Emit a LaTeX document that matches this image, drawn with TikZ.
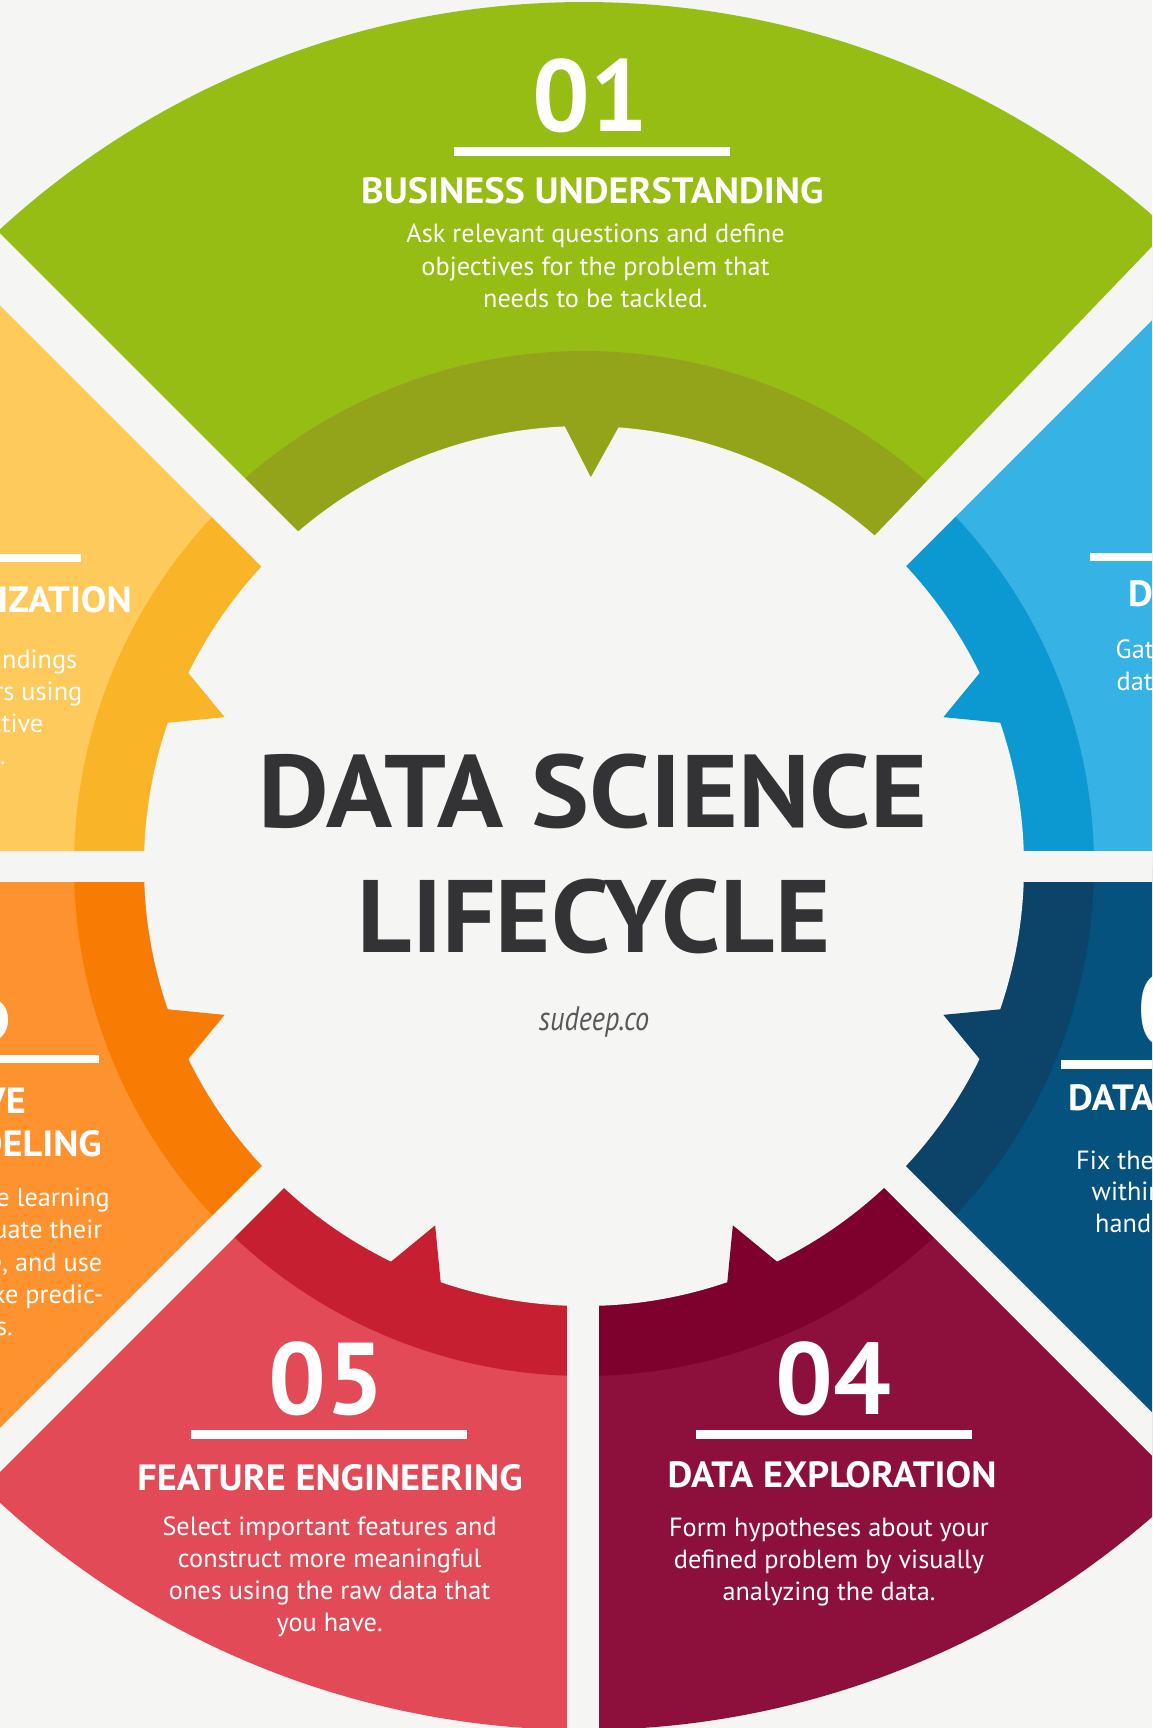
\documentclass[tikz,border=0pt]{standalone}
\usepackage{fontspec}
\setmainfont{PT Sans}
\newfontfamily\ttlfont[FakeStretch=1.05]{PT Sans}
\newfontfamily\bigfont[FakeStretch=1.06]{PT Sans}
\newfontfamily\bigfontb[FakeStretch=1.025]{PT Sans}
\newfontfamily\sitefont[FakeStretch=0.83]{PT Sans}
\usetikzlibrary{calc}
\definecolor{bgc}{HTML}{F5F5F3}
\definecolor{gA}{HTML}{96BD13}\definecolor{gB}{HTML}{93A41A}
\definecolor{yA}{HTML}{FECA5C}\definecolor{yB}{HTML}{F9B428}
\definecolor{oA}{HTML}{FE922E}\definecolor{oB}{HTML}{F87B04}
\definecolor{rA}{HTML}{E24A58}\definecolor{rB}{HTML}{C71F32}
\definecolor{mA}{HTML}{8D103C}\definecolor{mB}{HTML}{7D002D}
\definecolor{dA}{HTML}{06527E}\definecolor{dB}{HTML}{0B4468}
\definecolor{bA}{HTML}{36B2E4}\definecolor{bB}{HTML}{0C99D1}
\definecolor{ink}{HTML}{333335}
\definecolor{siteink}{HTML}{58585A}
\newcommand{\dssector}[4]{\fill[#1] (584,866) -- plot[domain=#2:#3,samples=120,variable=\t] ({584+#4*cos(\t)},{866+#4*sin(\t)}) -- cycle;}
\newcommand{\dstooth}[2]{\fill[#1] ({584+447*cos(#2-3.9)},{866+447*sin(#2-3.9)}) -- ({584+389*cos(#2)},{866+389*sin(#2)}) -- ({584+447*cos(#2+3.9)},{866+447*sin(#2+3.9)}) -- cycle;}
\tikzset{
  num/.style={font=\bfseries\fontsize{102}{110}\selectfont,text=white,inner sep=0pt,anchor=base},
  ttl/.style={font=\ttlfont\bfseries\fontsize{36.5}{40}\selectfont,text=white,inner sep=0pt,anchor=base},
  desc/.style={font=\fontsize{26.3}{32}\selectfont,text=white,inner sep=0pt,anchor=base},
  bigt/.style={font=\bigfont\bfseries\fontsize{103}{110}\selectfont,text=ink,inner sep=0pt,anchor=base},
  bigtb/.style={font=\bigfontb\bfseries\fontsize{103}{110}\selectfont,text=ink,inner sep=0pt,anchor=base},
  site/.style={font=\sitefont\itshape\fontsize{34}{36}\selectfont,text=siteink,inner sep=0pt,anchor=base},
  gap/.style={draw=bgc,line cap=butt}
}
\begin{document}
\begin{tikzpicture}[x=1pt,y=-1pt]
\useasboundingbox (0,0) rectangle (1152,1728);
\clip (0,0) rectangle (1152,1728);
\fill[bgc] (-10,-10) rectangle (1162,1738);
% outer sectors
\dssector{bA}{-45}{0}{864}
\dssector{dA}{0}{45}{864}
\dssector{mA}{45}{90}{864}
\dssector{rA}{90}{135}{864}
\dssector{oA}{135}{180}{864}
\dssector{yA}{180}{225}{864}
\dssector{gA}{225}{315}{864}
% darker bands
\dssector{bB}{-45}{0}{510}
\dssector{dB}{0}{45}{510}
\dssector{mB}{45}{90}{510}
\dssector{rB}{90}{135}{510}
\dssector{oB}{135}{180}{510}
\dssector{yB}{180}{225}{510}
\dssector{gB}{225}{315}{515}
% center disc
\fill[bgc] (584,866) circle[radius=440];
% teeth
\dstooth{bB}{-22.5}
\dstooth{dB}{22.5}
\dstooth{mB}{67.5}
\dstooth{rB}{112.5}
\dstooth{oB}{157.5}
\dstooth{yB}{202.5}
\dstooth{gB}{271}
% gaps
\draw[gap,line width=31pt] (584,866.5) -- (1300,866.5);
\draw[gap,line width=31pt] (584,866.5) -- (-100,866.5);
\draw[gap,line width=32pt] (583,866) -- (583,1800);
\draw[gap,line width=30.5pt] (584,866) -- (1400,1682);
\draw[gap,line width=31pt] (584,866) -- (-300,1750);
\fill[bgc] (-100,133.3) -- (560,793.3) -- (560,865) -- (-100,205) -- cycle;
\fill[bgc] (600,821.6) -- (1300,92.6) -- (1300,172) -- (600,872) -- cycle;
% 01
\node[num] (n01) at (590.7,132) {01};
\fill[white] (454,147.3) rectangle (730.3,156.1);
\node[ttl] (t01) at (592.3,203.6) {BUSINESS UNDERSTANDING};
\node[desc] (d01a) at (595.5,243) {Ask relevant questions and define};
\node[desc] (d01b) at (595.5,275) {objectives for the problem that};
\node[desc] (d01c) at (595.5,307) {needs to be tackled.};
% 02
\fill[white] (1089.7,553) rectangle (1160,561);
\node[ttl,anchor=base west] (t02) at (1128,606) {DATA MINING};
\node[desc,anchor=base west] (d02a) at (1115.5,658) {Gather and scrape the};
\node[desc,anchor=base west] (d02b) at (1116.5,690) {data necessary for the};
% 03
\node[num,anchor=base west] (n03) at (1137,1045) {03};
\fill[white] (1060.7,1060) rectangle (1160,1069.3);
\node[ttl,anchor=base west] (t03) at (1068,1110.5) {DATA CLEANING};
\node[desc,anchor=base west] (d03a) at (1076,1169) {Fix the inconsistencies};
\node[desc,anchor=base west] (d03b) at (1091.5,1200.5) {within the data and};
\node[desc,anchor=base west] (d03c) at (1095,1232) {handle the missing values.};
% 04
\node[num] (n04) at (833.8,1414) {04};
\fill[white] (695.8,1430) rectangle (972,1439.3);
\node[ttl] (t04) at (832,1487.5) {DATA EXPLORATION};
\node[desc] (d04a) at (829,1536) {Form hypotheses about your};
\node[desc] (d04b) at (829,1568) {defined problem by visually};
\node[desc] (d04c) at (829,1600) {analyzing the data.};
% 05
\node[num] (n05) at (326.8,1414) {05};
\fill[white] (191,1430) rectangle (466.6,1439.3);
\node[ttl] (t05) at (330,1490) {FEATURE ENGINEERING};
\node[desc] (d05a) at (329.6,1535) {Select important features and};
\node[desc] (d05b) at (329.6,1567) {construct more meaningful};
\node[desc] (d05c) at (329.6,1599) {ones using the raw data that};
\node[desc] (d05d) at (329.6,1631) {you have.};
% 06
\node[num,anchor=base east] (n06) at (14,1042) {06};
\fill[white] (-200,1055) rectangle (99,1063.3);
\node[ttl,anchor=base east] (t06a) at (26,1113.3) {PREDICTIVE};
\node[ttl,anchor=base east] (t06b) at (102,1156.7) {MODELING};
\node[desc,anchor=base east] (d06a) at (110,1206) {Train machine learning};
\node[desc,anchor=base east] (d06b) at (102.5,1238) {models and evaluate their};
\node[desc,anchor=base east] (d06c) at (102.5,1271) {performance, and use};
\node[desc,anchor=base east] (d06d) at (103.5,1303) {them to make predic-};
\node[desc,anchor=base east] (d06e) at (13,1335) {tions.};
% 07
\fill[white] (-200,554) rectangle (80.7,562.3);
\node[ttl,anchor=base east] (t07) at (132,612.7) {DATA VISUALIZATION};
\node[desc,anchor=base east] (d07a) at (77.5,668.3) {Communicate the findings};
\node[desc,anchor=base east] (d07b) at (82.5,700) {with stakeholders using};
\node[desc,anchor=base east] (d07c) at (43.5,732.5) {plots and interactive};
\node[desc,anchor=base east] (d07d) at (6,764.5) {visualizations.};
% center title
\node[bigt] (ds1) at (593.4,827.7) {DATA SCIENCE};
\node[bigtb] (ds2) at (594,952.3) {LIFECYCLE};
\node[site] (site) at (594,1030) {sudeep.co};
\end{tikzpicture}
\end{document}
